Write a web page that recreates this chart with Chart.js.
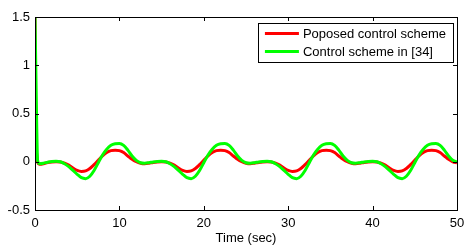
<!DOCTYPE html>
<html>
<head>
<meta charset="utf-8">
<script src="https://cdn.jsdelivr.net/npm/chart.js@4/dist/chart.umd.min.js"></script>
<style>
  body { margin: 0; background: #fff; }
</style>
</head>
<body>
<canvas id="responseChart" width="475" height="250"></canvas>
<script>
const seriesNames = ['Poposed control scheme', 'Control scheme in [34]'];
const xTicks = [0, 10, 20, 30, 40, 50];
const yTicks = [-0.5, 0, 0.5, 1, 1.5];

const timeSec = [
  0, 0.1, 0.2, 0.3, 0.5, 1.0, 1.5, 2.0,
  2.5, 3, 3.5, 4, 4.5, 5, 5.5, 6, 6.5, 7, 7.5, 8, 8.5, 9, 9.5, 10, 10.5, 11, 11.5, 12, 12.5, 13, 13.5, 14, 14.5,
  15, 15.5, 16, 16.5, 17, 17.5, 18, 18.5, 19, 19.5, 20, 20.5, 21, 21.5, 22, 22.5, 23, 23.5, 24, 24.5, 25, 25.5, 26, 26.5, 27,
  27.5, 28, 28.5, 29, 29.5, 30, 30.5, 31, 31.5, 32, 32.5, 33, 33.5, 34, 34.5, 35, 35.5, 36, 36.5, 37, 37.5, 38, 38.5, 39, 39.5,
  40, 40.5, 41, 41.5, 42, 42.5, 43, 43.5, 44, 44.5, 45, 45.5, 46, 46.5, 47, 47.5, 48, 48.5, 49, 49.5, 50
];

const proposed = [
  1.5, 0.22, 0.08, 0.0, -0.025, -0.02, -0.008, -0.002,
  0.0, -0.003, -0.015, -0.035, -0.065, -0.09, -0.10, -0.095, -0.07, -0.03, 0.015, 0.06, 0.095, 0.115, 0.12, 0.115, 0.095, 0.06, 0.025, 0.0, -0.015, -0.02, -0.015, -0.007, -0.002,
  0.0, -0.003, -0.015, -0.035, -0.065, -0.09, -0.10, -0.095, -0.07, -0.03, 0.015, 0.06, 0.095, 0.115, 0.12, 0.115, 0.095, 0.06, 0.025, 0.0, -0.015, -0.02, -0.015, -0.007, -0.002,
  0.0, -0.003, -0.015, -0.035, -0.065, -0.09, -0.10, -0.095, -0.07, -0.03, 0.015, 0.06, 0.095, 0.115, 0.12, 0.115, 0.095, 0.06, 0.025, 0.0, -0.015, -0.02, -0.015, -0.007, -0.002,
  0.0, -0.003, -0.015, -0.035, -0.065, -0.09, -0.10, -0.095, -0.07, -0.03, 0.015, 0.06, 0.095, 0.115, 0.12, 0.115, 0.095, 0.06, 0.025, 0.0, -0.01
];

const scheme34 = [
  1.5, 0.95, 0.4, 0.02, -0.02, -0.015, -0.005, 0.003,
  0.005, 0.0, -0.02, -0.05, -0.09, -0.13, -0.165, -0.175, -0.15, -0.09, -0.01, 0.07, 0.13, 0.17, 0.187, 0.19, 0.17, 0.12, 0.06, 0.015, -0.01, -0.015, -0.01, -0.002, 0.003,
  0.005, 0.0, -0.02, -0.05, -0.09, -0.13, -0.165, -0.175, -0.15, -0.09, -0.01, 0.07, 0.13, 0.17, 0.187, 0.19, 0.17, 0.12, 0.06, 0.015, -0.01, -0.015, -0.01, -0.002, 0.003,
  0.005, 0.0, -0.02, -0.05, -0.09, -0.13, -0.165, -0.175, -0.15, -0.09, -0.01, 0.07, 0.13, 0.17, 0.187, 0.19, 0.17, 0.12, 0.06, 0.015, -0.01, -0.015, -0.01, -0.002, 0.003,
  0.005, 0.0, -0.02, -0.05, -0.09, -0.13, -0.165, -0.175, -0.15, -0.09, -0.01, 0.07, 0.13, 0.17, 0.187, 0.19, 0.17, 0.12, 0.06, 0.015, 0.0
];

Chart.defaults.font.family = "'Liberation Sans', Arial, sans-serif";
Chart.defaults.font.size = 13;
Chart.defaults.color = '#000';

// matlab style box, inward ticks and legend inside the axes
const matlabFrame = {
  id: 'matlabFrame',
  afterDraw(chart) {
    const { ctx, chartArea: a, scales } = chart;
    const tl = 4;
    ctx.save();
    ctx.strokeStyle = '#000';
    ctx.lineWidth = 1;
    ctx.strokeRect(a.left + 0.5, a.top + 0.5, a.right - a.left, a.bottom - a.top);
    ctx.beginPath();
    xTicks.forEach(v => {
      const px = Math.round(scales.x.getPixelForValue(v)) + 0.5;
      ctx.moveTo(px, a.bottom); ctx.lineTo(px, a.bottom - tl);
      ctx.moveTo(px, a.top); ctx.lineTo(px, a.top + tl);
    });
    yTicks.forEach(v => {
      const py = Math.round(scales.y.getPixelForValue(v)) + 0.5;
      ctx.moveTo(a.left, py); ctx.lineTo(a.left + tl, py);
      ctx.moveTo(a.right, py); ctx.lineTo(a.right - tl, py);
    });
    ctx.stroke();

    // legend
    ctx.font = "13px 'Liberation Sans', Arial, sans-serif";
    const ds = chart.data.datasets;
    const textW = Math.max(...ds.map(d => ctx.measureText(d.label).width));
    const boxW = 7 + 34 + 4 + textW + 7;
    const boxH = 39;
    const bx = a.right - 4 - boxW;
    const by = a.top + 6;
    ctx.fillStyle = '#fff';
    ctx.fillRect(bx, by, boxW, boxH);
    ctx.strokeRect(Math.round(bx) + 0.5, by + 0.5, Math.round(boxW), boxH);
    ds.forEach((d, i) => {
      const ry = by + 10.5 + i * 18;
      ctx.strokeStyle = d.borderColor;
      ctx.lineWidth = 3;
      ctx.beginPath();
      ctx.moveTo(bx + 7, ry); ctx.lineTo(bx + 41, ry);
      ctx.stroke();
      ctx.fillStyle = '#000';
      ctx.textBaseline = 'middle';
      ctx.fillText(d.label, bx + 45, ry + 1);
    });
    ctx.restore();
  }
};

const ctx = document.getElementById('responseChart').getContext('2d');
new Chart(ctx, {
  type: 'line',
  data: {
    datasets: [
      {
        label: seriesNames[0],
        data: timeSec.map((t, i) => ({ x: t, y: proposed[i] })),
        borderColor: '#ff0000',
        borderWidth: 3,
        pointRadius: 0,
        cubicInterpolationMode: 'monotone',
        order: 1
      },
      {
        label: seriesNames[1],
        data: timeSec.map((t, i) => ({ x: t, y: scheme34[i] })),
        borderColor: '#00ff00',
        borderWidth: 3,
        pointRadius: 0,
        cubicInterpolationMode: 'monotone',
        order: 0
      }
    ]
  },
  options: {
    responsive: false,
    animation: false,
    layout: { padding: { top: 17, right: 18, left: 0, bottom: 0 } },
    plugins: {
      legend: { display: false },
      tooltip: { enabled: false }
    },
    scales: {
      x: {
        type: 'linear',
        min: 0,
        max: 50,
        afterBuildTicks: s => { s.ticks = xTicks.map(v => ({ value: v })); },
        afterFit: s => { s.height = 40; },
        ticks: { padding: 6, maxRotation: 0, callback: v => String(v) },
        grid: { display: false, drawTicks: false },
        border: { display: false },
        title: { display: true, text: 'Time (sec)', padding: { top: 0, bottom: 4 } }
      },
      y: {
        min: -0.5,
        max: 1.5,
        afterBuildTicks: s => { s.ticks = yTicks.map(v => ({ value: v })); },
        afterFit: s => { s.width = 35; },
        ticks: { padding: 5, callback: v => String(v) },
        grid: { display: false, drawTicks: false },
        border: { display: false }
      }
    }
  },
  plugins: [matlabFrame]
});
</script>
</body>
</html>
